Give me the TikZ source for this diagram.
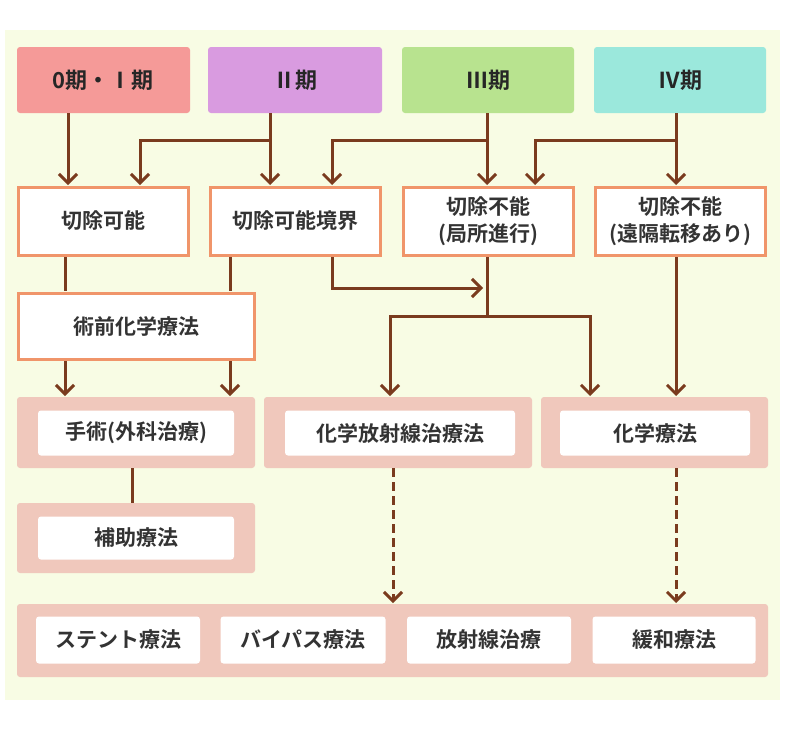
\documentclass[tikz,border=0pt]{standalone}
\usepackage{fontspec}
\setmainfont{Noto Sans CJK JP}[BoldFont={Noto Sans CJK JP Bold}]
\usetikzlibrary{arrows.meta}
\definecolor{bg}{HTML}{F8FCE4}
\definecolor{brn}{HTML}{7A3B1E}
\definecolor{org}{HTML}{F0956A}
\definecolor{pk}{HTML}{F0C8BC}
\definecolor{c1}{HTML}{F59A98}
\definecolor{c2}{HTML}{D99BE0}
\definecolor{c3}{HTML}{B8E38F}
\definecolor{c4}{HTML}{9BE8DC}
\tikzset{
 stage/.style={rounded corners=3pt,draw=none,font=\bfseries\fontsize{22}{26}\selectfont,text=black!85},
 wbox/.style={draw=org,line width=3pt,fill=white,font=\bfseries\fontsize{21}{27}\selectfont,align=center,text=black!80},
 cont/.style={fill=pk,rounded corners=3pt},
 inner/.style={fill=white,rounded corners=3pt,font=\bfseries\fontsize{21}{24}\selectfont,text=black!80},
 ar/.style={draw=brn,line width=3pt,-{Straight Barb[length=9pt,width=18pt,line width=3pt]}},
 ln/.style={draw=brn,line width=3pt},
 da/.style={ar,dash pattern=on 9pt off 5pt}
}
\begin{document}
\begin{tikzpicture}[x=1pt,y=-1pt]
\useasboundingbox (0,0) rectangle (800,731);
\fill[bg] (5,30) rectangle (780,700);
% stages
\path[stage,fill=c1] (17,47) rectangle (190,113);
\node[stage] (s1) at (103,80) {0期・Ⅰ期};
\path[stage,fill=c2] (208,47) rectangle (382,113);
\node[stage] (s2) at (295,80) {Ⅱ期};
\path[stage,fill=c3] (402,47) rectangle (574,113);
\node[stage] (s3) at (488,80) {Ⅲ期};
\path[stage,fill=c4] (594,47) rectangle (766,113);
\node[stage] (s4) at (680,80) {Ⅳ期};
% row2
\node[wbox,minimum width=170pt,minimum height=68pt] (r1) at (103,221) {切除可能};
\node[wbox,minimum width=170pt,minimum height=68pt] (r2) at (295,221) {切除可能境界};
\node[wbox,minimum width=170pt,minimum height=68pt] (r3) at (488,221) {切除不能\\(局所進行)};
\node[wbox,minimum width=170pt,minimum height=68pt] (r4) at (680,221) {切除不能\\(遠隔転移あり)};
\node[wbox,minimum width=236pt,minimum height=66pt] (pre) at (136,326) {術前化学療法};
% row4
\path[cont] (17,397) rectangle (255,468); \path[cont] (264,397) rectangle (532,468); \path[cont] (541,397) rectangle (768,468);
\node[inner,minimum width=196pt,minimum height=45pt] (op) at (136,433) {手術(外科治療)};
\node[inner,minimum width=230pt,minimum height=45pt] (crt) at (400,433) {化学放射線治療法};
\node[inner,minimum width=190pt,minimum height=45pt] (ct) at (655,433) {化学療法};
\path[cont] (17,503) rectangle (255,573);
\node[inner,minimum width=196pt,minimum height=43pt] (adj) at (136,538) {補助療法};
\path[cont] (17,604) rectangle (768,677);
\node[inner,minimum width=164pt,minimum height=47pt] (b1) at (118,640) {ステント療法};
\node[inner,minimum width=165pt,minimum height=47pt] (b2) at (303,640) {バイパス療法};
\node[inner,minimum width=164pt,minimum height=47pt] (b3) at (489,640) {放射線治療};
\node[inner,minimum width=163pt,minimum height=47pt] (b4) at (674,640) {緩和療法};
% arrows
\coordinate (j2) at (270,140); \coordinate (j3) at (487,140); \coordinate (j4) at (676,140);
\draw[ar] (68,113) -- (68,185);
\draw[ln] (270,113) -- (j2); \draw[ar] (j2) -- (270,185); \draw[ar] (j2) -- (140,140) -- (140,185);
\draw[ln] (487,113) -- (j3); \draw[ar] (j3) -- (487,185); \draw[ar] (j3) -- (332,140) -- (332,185);
\draw[ln] (676,113) -- (j4); \draw[ar] (j4) -- (676,185); \draw[ar] (j4) -- (535,140) -- (535,185);
\draw[ln] (65,257) -- (65,291); \draw[ln] (230,257) -- (230,291);
\draw[ar] (65,361) -- (65,396); \draw[ar] (230,361) -- (230,396);
\draw[ar] (332,257) -- (332,288) -- (483,288);
\coordinate (j5) at (487,316);
\draw[ln] (487,257) -- (j5);
\draw[ar] (j5) -- (390,316) -- (390,396);
\draw[ar] (j5) -- (590,316) -- (590,396);
\draw[ar] (676,257) -- (676,396);
\draw[ln] (132,468) -- (132,503);
\draw[da] (393,468) -- (393,603);
\draw[da] (676,468) -- (676,603);
\end{tikzpicture}
\end{document}
